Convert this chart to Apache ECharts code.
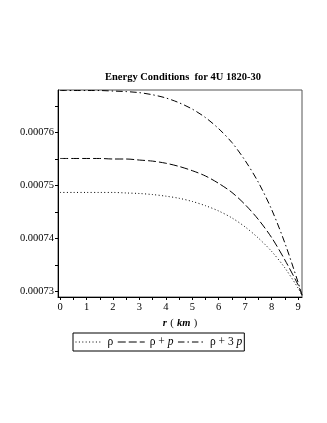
<!DOCTYPE html>
<html><head><meta charset="utf-8">
<script src="https://cdn.jsdelivr.net/npm/echarts@6/dist/echarts.min.js"></script>
<style>html,body{margin:0;padding:0;background:#fff}#c{width:327px;height:423px}</style>
</head><body><div id="c"></div>
<script>
const radius = [0, 0.5, 1, 1.5, 2, 2.5, 3, 3.5, 4, 4.5, 5, 5.5, 6, 6.5, 7, 7.5, 8, 8.5, 9, 9.15];
const rho = [0.0007487, 0.0007487, 0.0007487, 0.0007487, 0.0007487, 0.0007486, 0.0007485, 0.0007483, 0.0007480, 0.0007476, 0.0007470, 0.0007462, 0.0007452, 0.0007439, 0.0007422, 0.0007401, 0.0007376, 0.0007345, 0.0007307, 0.0007293];
const rhoPlusP = [0.0007551, 0.0007551, 0.0007551, 0.0007551, 0.0007550, 0.0007550, 0.0007548, 0.0007546, 0.0007542, 0.0007536, 0.0007528, 0.0007518, 0.0007504, 0.0007487, 0.0007464, 0.0007436, 0.0007402, 0.0007360, 0.0007313, 0.0007294];
const rhoPlus3P = [0.0007679, 0.0007679, 0.0007679, 0.0007679, 0.0007678, 0.0007677, 0.0007675, 0.0007671, 0.0007665, 0.0007656, 0.0007644, 0.0007628, 0.0007607, 0.0007581, 0.0007547, 0.0007506, 0.0007455, 0.0007392, 0.0007318, 0.0007293];
const xTicks = [0, 1, 2, 3, 4, 5, 6, 7, 8, 9];
const xMinorTicks = [0, 0.5, 1, 1.5, 2, 2.5, 3, 3.5, 4, 4.5, 5, 5.5, 6, 6.5, 7, 7.5, 8, 8.5, 9];
const yTicks = [0.00073, 0.00074, 0.00075, 0.00076];
const yAllTicks = [0.00073, 0.000735, 0.00074, 0.000745, 0.00075, 0.000755, 0.00076, 0.000765];

const pair = arr => radius.map((r, i) => [r, arr[i]]);
const serif = '"Liberation Serif", "DejaVu Serif", serif';
const chart = echarts.init(document.getElementById('c'), null, {renderer: 'canvas'});
const legendNames = {
  'rho': '{n|ρ}',
  'rho+p': '{n|ρ + }{i|p}',
  'rho+3p': '{n|ρ + 3 }{i|p}'
};
chart.setOption({
  animation: false,
  backgroundColor: '#fff',
  title: {
    text: 'Energy Conditions  for 4U 1820-30',
    left: 178, top: 67, textAlign: 'center',
    textStyle: {fontFamily: serif, fontSize: 10.5, fontWeight: 'bold', color: '#000'}
  },
  grid: {left: 58, right: 25, top: 90, bottom: 126, show: true, borderColor: '#555', borderWidth: 1, backgroundColor: 'transparent'},
  xAxis: {
    type: 'value', min: -0.08, max: 9.15,
    name: '{i|r} {n|(} {i|km} {n|)}', nameLocation: 'middle', nameGap: 20,
    nameTextStyle: {rich: {
      i: {fontFamily: serif, fontSize: 10.5, fontStyle: 'italic', fontWeight: 'bold', color: '#000'},
      n: {fontFamily: serif, fontSize: 10.5, color: '#000'}
    }},
    splitLine: {show: false},
    axisLine: {show: true, onZero: false, lineStyle: {color: '#000', width: 1}},
    axisTick: {show: true, customValues: xMinorTicks, length: 3, inside: false, lineStyle: {color: '#000'}},
    axisLabel: {customValues: xTicks, fontFamily: serif, fontSize: 10.5, color: '#000', margin: 5, formatter: v => String(Math.round(v))}
  },
  yAxis: {
    type: 'value', min: 0.000729, max: 0.000768,
    splitLine: {show: false},
    axisLine: {show: true, onZero: false, lineStyle: {color: '#000', width: 1}},
    axisTick: {show: true, customValues: yAllTicks, length: 3, lineStyle: {color: '#000'}},
    axisLabel: {customValues: yTicks, fontFamily: serif, fontSize: 10.5, color: '#000', margin: 4, formatter: v => v.toFixed(5)}
  },
  legend: {
    show: true,
    data: ['rho', 'rho+p', 'rho+3p'],
    left: 73, top: 333,
    orient: 'horizontal',
    itemWidth: 27, itemHeight: 10, itemGap: 4,
    padding: [3, 2, 3, 2],
    borderColor: '#000', borderWidth: 1, borderRadius: 0,
    itemStyle: {opacity: 0, borderWidth: 0},
    lineStyle: {width: 1},
    formatter: n => legendNames[n],
    textStyle: {fontFamily: serif, fontSize: 11.5, color: '#000', rich: {
      n: {fontFamily: serif, fontSize: 11.5, color: '#000'},
      i: {fontFamily: serif, fontSize: 11.5, fontStyle: 'italic', color: '#000'}
    }}
  },
  series: [
    {name: 'rho', type: 'line', data: pair(rho), smooth: 0.3, symbol: 'none',
     lineStyle: {color: '#000', width: 1, type: [1, 2.4]}, itemStyle: {color: '#000'}},
    {name: 'rho+p', type: 'line', data: pair(rhoPlusP), smooth: 0.3, symbol: 'none',
     lineStyle: {color: '#000', width: 1, type: [8, 3]}, itemStyle: {color: '#000'}},
    {name: 'rho+3p', type: 'line', data: pair(rhoPlus3P), smooth: 0.3, symbol: 'none',
     lineStyle: {color: '#000', width: 1, type: [6.5, 3, 1.5, 3]}, itemStyle: {color: '#000'}}
  ]
});
</script></body></html>
